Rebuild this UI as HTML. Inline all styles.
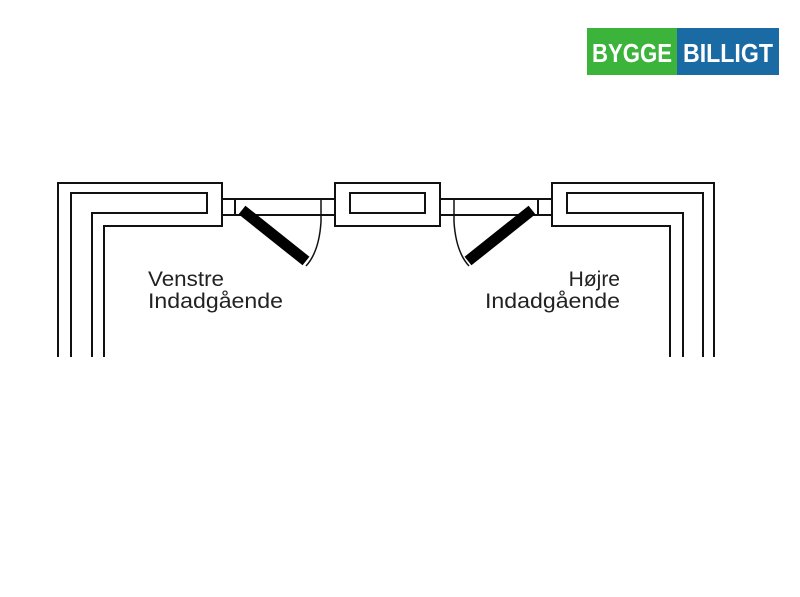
<!DOCTYPE html>
<html><head><meta charset="utf-8"><style>
html,body{margin:0;padding:0;background:#fff;}
svg{display:block;}
</style></head><body>
<svg width="800" height="597" viewBox="0 0 800 597" xmlns="http://www.w3.org/2000/svg">
<rect x="0" y="0" width="800" height="597" fill="#fff"/>
<!-- logo -->
<rect x="587" y="28" width="90" height="47" fill="#3cb43c"/>
<rect x="677" y="28" width="102" height="47" fill="#1a6aa4"/>
<text x="632" y="62" font-family="Liberation Sans, sans-serif" font-weight="bold" font-size="26" fill="#fff" text-anchor="middle" textLength="80" lengthAdjust="spacingAndGlyphs">BYGGE</text>
<text x="728" y="62" font-family="Liberation Sans, sans-serif" font-weight="bold" font-size="26" fill="#fff" text-anchor="middle" textLength="90" lengthAdjust="spacingAndGlyphs">BILLIGT</text>

<g fill="none" stroke="#111" stroke-width="2">
<!-- left wall -->
<path d="M58,357 V183 H222 V226 H104 V357"/>
<path d="M71,357 V193 H207 V213 H92 V357"/>
<!-- left window -->
<path d="M222,199 H335 M222,215 H335 M235,199 V215"/>
<path d="M321,199 V222 Q319,252 306,266" stroke-width="1.5"/>
<!-- middle -->
<rect x="335" y="183" width="105" height="43"/>
<rect x="350" y="193" width="75" height="20"/>
<!-- right window -->
<path d="M440,199 H552 M440,215 H552 M538,199 V215"/>
<path d="M454,199 V222 Q456,252 469,266" stroke-width="1.5"/>
<!-- right wall -->
<path d="M714,357 V183 H552 V226 H670 V357"/>
<path d="M703,357 V193 H567 V213 H683 V357"/>
</g>
<!-- door leaves -->
<line x1="242" y1="210" x2="306" y2="261" stroke="#000" stroke-width="11"/>
<line x1="532" y1="210" x2="468" y2="261" stroke="#000" stroke-width="11"/>

<g font-family="Liberation Sans, sans-serif" font-size="21" fill="#222">
<text x="148" y="286" textLength="76" lengthAdjust="spacingAndGlyphs">Venstre</text>
<text x="148" y="308" textLength="135" lengthAdjust="spacingAndGlyphs">Indadgående</text>
<text x="620" y="286" text-anchor="end">Højre</text>
<text x="620" y="308" text-anchor="end" textLength="135" lengthAdjust="spacingAndGlyphs">Indadgående</text>
</g>
</svg>
</body></html>
